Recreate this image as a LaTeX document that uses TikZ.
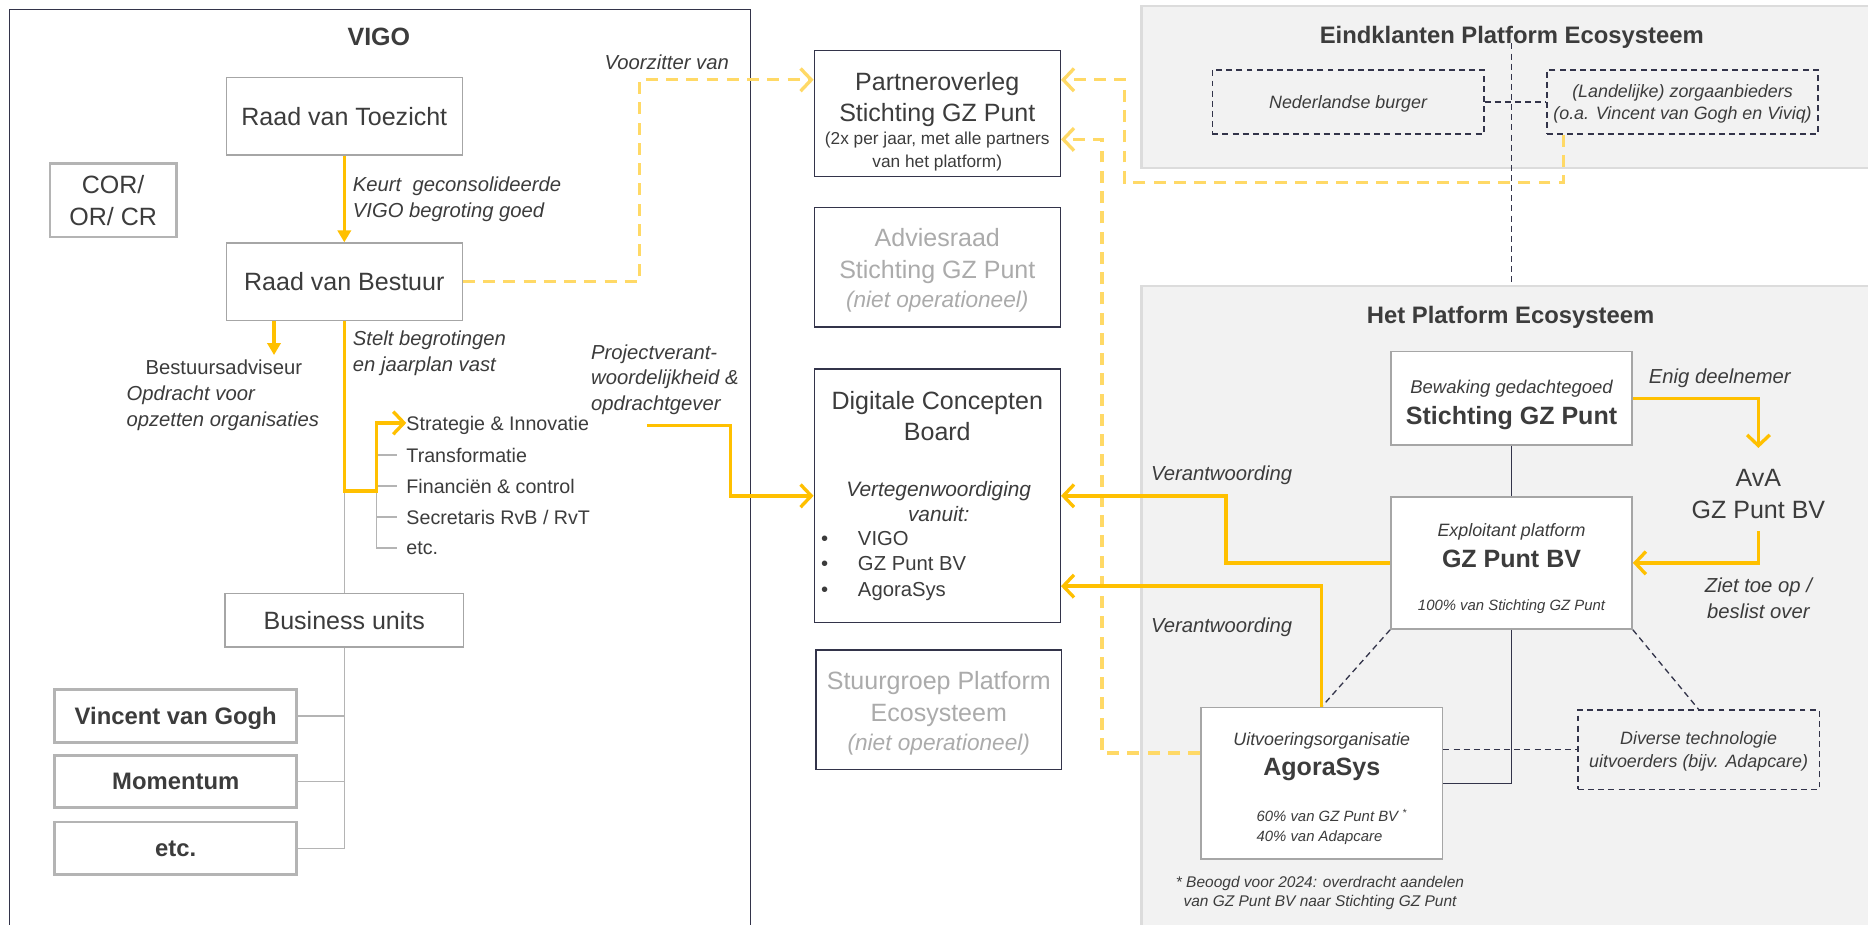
\documentclass[tikz,border=0pt]{standalone}
\usepackage{fontspec}
\setmainfont{Liberation Sans}
\usetikzlibrary{arrows.meta}
\definecolor{ink}{HTML}{3C3C3C}
\definecolor{faint}{HTML}{ABABAB}
\definecolor{gold}{HTML}{FFC000}
\definecolor{goldl}{HTML}{FFD966}
\definecolor{navy}{HTML}{33344A}
\definecolor{gline}{HTML}{A6A6A6}
\definecolor{tline}{HTML}{B4B4B4}
\definecolor{pfill}{HTML}{F2F2F2}
\definecolor{pdraw}{HTML}{DCDCDC}
\newcommand\fsT{\fontsize{21}{26.5}\selectfont}
\newcommand\fsH{\fontsize{20}{24}\selectfont}
\newcommand\fsL{\fontsize{17}{21.5}\selectfont}
\newcommand\fsM{\fontsize{16.5}{20}\selectfont}
\newcommand\fsS{\fontsize{15}{19}\selectfont}
\newcommand\fsP{\fontsize{14.5}{19}\selectfont}
\newcommand\fsF{\fontsize{13}{16}\selectfont}
\newcommand\fsX{\fontsize{12.5}{16.5}\selectfont}
\tikzset{
  lbl/.style={inner sep=0pt, text depth=0pt, text=ink},
  gbox/.style={draw=gline, line width=1.2pt, fill=white, inner sep=0pt, text depth=0pt, text=ink},
  tbox/.style={draw=tline, line width=2.2pt, fill=white, inner sep=0pt, text depth=0pt, text=ink},
  nbox/.style={draw=navy, line width=1.2pt, fill=white, inner sep=0pt},
  wbox/.style={draw=gline, line width=1.2pt, fill=white, inner sep=0pt},
  dbox/.style={draw=navy, line width=1.1pt, dash pattern=on 5pt off 3.5pt, inner sep=0pt, text depth=0pt, text=ink},
  panelbox/.style={draw=pdraw, line width=2.2pt, fill=pfill, inner sep=0pt},
  ychev/.style={-{Straight Barb[length=9pt,width=19pt]}},
  yarrow/.style={draw=gold, line width=2.8pt, ychev},
  yplain/.style={draw=gold, line width=2.8pt},
  ytri/.style={draw=gold, line width=2.8pt, -{Triangle[length=10pt,width=11pt]}},
  ydash/.style={draw=goldl, line width=2.8pt, dash pattern=on 10pt off 7pt},
  gtree/.style={draw=tline, line width=1pt},
  nline/.style={draw=navy, line width=1.1pt},
  ndash/.style={draw=navy, line width=1.1pt, dash pattern=on 5pt off 3.5pt},
}
\begin{document}
\begin{tikzpicture}[x=1pt,y=-1pt]
\useasboundingbox (0,0) rectangle (1568,776);
\fill[white] (0,0) rectangle (1568,776);
% ---------- panels / frame
\node[panelbox, minimum width=622pt, minimum height=136pt] (pan1) at (1269,73) {};
\node[panelbox, minimum width=622pt, minimum height=560pt] (pan2) at (1269,520) {};
\node[draw=navy, line width=1.2pt, minimum width=622pt, minimum height=782pt, inner sep=0pt] (vigoframe) at (319,399) {};

% ---------- VIGO
\node[lbl, font=\fontsize{21}{25}\selectfont\bfseries] (vigot) at (318,31) {VIGO};
\node[gbox, minimum width=198pt, minimum height=65pt, font=\fsT] (rvt) at (289,97.5) {Raad van Toezicht};
\node[tbox, minimum width=106pt, minimum height=62pt, font=\fontsize{21}{27}\selectfont, align=center] (cor) at (95,168) {COR/\\OR/ CR};
\node[gbox, minimum width=198pt, minimum height=65pt, font=\fsT] (rvb) at (289,236.5) {Raad van Bestuur};
\node[lbl, font=\fsL\itshape, anchor=west, align=left] (keurt) at (296,165.5) {Keurt\ \ geconsolideerde\\VIGO begroting goed};
\node[lbl, font=\fsL\itshape, anchor=east] (voorz) at (612,52) {Voorzitter van};
\node[lbl, font=\fsL, anchor=west] (bsa) at (122,308) {Bestuursadviseur};
\node[lbl, font=\fsL\itshape, anchor=west] (bsb) at (106,330) {Opdracht voor};
\node[lbl, font=\fsL\itshape, anchor=west] (bsc) at (106,352) {opzetten organisaties};
\node[lbl, font=\fsL\itshape, anchor=west, align=left] (stelt) at (296,295) {Stelt begrotingen\\en jaarplan vast};
\node[lbl, font=\fsM, anchor=west] (si) at (341,355) {Strategie \& Innovatie};
\node[lbl, font=\fsM, anchor=west] (tr) at (341,382) {Transformatie};
\node[lbl, font=\fsM, anchor=west] (fc) at (341,408) {Financiën \& control};
\node[lbl, font=\fsM, anchor=west] (sec) at (341,434) {Secretaris RvB / RvT};
\node[lbl, font=\fsM, anchor=west] (etca) at (341,460) {etc.};
\node[gbox, minimum width=200pt, minimum height=45pt, font=\fsT] (bu) at (289,520.5) {Business units};
\node[tbox, minimum width=203pt, minimum height=44pt, font=\fontsize{20}{24}\selectfont\bfseries] (vvg) at (147.5,601) {Vincent van Gogh};
\node[tbox, minimum width=203pt, minimum height=44pt, font=\fontsize{20}{24}\selectfont\bfseries] (mom) at (147.5,656) {Momentum};
\node[tbox, minimum width=203pt, minimum height=44pt, font=\fontsize{20}{24}\selectfont\bfseries] (etcb) at (147.5,712) {etc.};

% ---------- middle column
\node[nbox, minimum width=206.5pt, minimum height=105.5pt] (po) at (786.75,95.25) {};
\node[lbl, font=\fsT] (poa) at (786.75,68) {Partneroverleg};
\node[lbl, font=\fsT] (pob) at (786.75,94.6) {Stichting GZ Punt};
\node[lbl, font=\fsP] (poc) at (786.75,116) {(2x per jaar, met alle partners};
\node[lbl, font=\fsP] (pod) at (786.75,135) {van het platform)};

\node[nbox, minimum width=206.5pt, minimum height=100.5pt] (adv) at (786.75,224.25) {};
\node[lbl, font=\fsT, text=faint] (adva) at (786.75,199) {Adviesraad};
\node[lbl, font=\fsT, text=faint] (advb) at (786.75,226) {Stichting GZ Punt};
\node[lbl, font=\fontsize{19}{23}\selectfont\itshape, text=faint] (advc) at (786.75,251) {(niet operationeel)};

\node[nbox, minimum width=206.5pt, minimum height=213pt] (dcb) at (786.75,416.2) {};
\node[lbl, font=\fsT] (dcba) at (786.75,336) {Digitale Concepten};
\node[lbl, font=\fsT] (dcbb) at (786.75,362) {Board};
\node[lbl, font=\fontsize{17.5}{21}\selectfont\itshape] (dcbc) at (788,410) {Vertegenwoordiging};
\node[lbl, font=\fontsize{17.5}{21}\selectfont\itshape] (dcbd) at (788,431) {vanuit:};
\node[lbl, font=\fsL, anchor=west] (dcbe) at (689,452) {\makebox[31pt][l]{•}VIGO};
\node[lbl, font=\fsL, anchor=west] (dcbf) at (689,473) {\makebox[31pt][l]{•}GZ Punt BV};
\node[lbl, font=\fsL, anchor=west] (dcbg) at (689,495) {\makebox[31pt][l]{•}AgoraSys};

\node[nbox, minimum width=206pt, minimum height=100.4pt] (sg) at (788,595.8) {};
\node[lbl, font=\fsT, text=faint] (sga) at (788,571) {Stuurgroep Platform};
\node[lbl, font=\fsT, text=faint] (sgb) at (788,598) {Ecosysteem};
\node[lbl, font=\fontsize{19}{23}\selectfont\itshape, text=faint] (sgc) at (788,623.4) {(niet operationeel)};

\node[lbl, font=\fsL\itshape, anchor=west, align=left] (pvl) at (496,317) {Projectverant-\\woordelijkheid \&\\opdrachtgever};

% ---------- right side
\node[lbl, font=\fsH\bfseries] (t1) at (1269,29) {Eindklanten Platform Ecosysteem};
\node[lbl, font=\fsH\bfseries] (t2) at (1268,264.4) {Het Platform Ecosysteem};
\node[dbox, minimum width=228pt, minimum height=53.7pt, font=\fsS\itshape] (nb) at (1131.6,85.65) {Nederlandse burger};
\node[dbox, minimum width=227.4pt, minimum height=53.7pt, font=\fsS\itshape, align=center] (zorg) at (1412.3,85.65) {(Landelijke) zorgaanbieders\\(o.a. Vincent van Gogh en Viviq)};

\node[wbox, minimum width=202.5pt, minimum height=78.6pt] (sgz) at (1268.75,334.3) {};
\node[lbl, font=\fontsize{15.5}{19}\selectfont\itshape] (sgza) at (1268.75,324.6) {Bewaking gedachtegoed};
\node[lbl, font=\fsT\bfseries] (sgzb) at (1268.75,349) {Stichting GZ Punt};

\node[wbox, minimum width=202.5pt, minimum height=111pt] (gzbv) at (1268.75,472.5) {};
\node[lbl, font=\fsS\itshape] (gzbva) at (1268.75,445) {Exploitant platform};
\node[lbl, font=\fsT\bfseries] (gzbvb) at (1268.75,469) {GZ Punt BV};
\node[lbl, font=\fsX\itshape] (gzbvc) at (1268.75,508) {100\% van Stichting GZ Punt};

\node[wbox, minimum width=203pt, minimum height=127.2pt] (ag) at (1109.5,657.4) {};
\node[lbl, font=\fsS\itshape] (aga) at (1109.5,620.6) {Uitvoeringsorganisatie};
\node[lbl, font=\fsT\bfseries] (agb) at (1109.5,644) {AgoraSys};
\node[lbl, font=\fsX\itshape, anchor=west] (agc) at (1054.6,685) {60\% van GZ Punt BV \smash{\textsuperscript{*}}};
\node[lbl, font=\fsX\itshape, anchor=west] (agd) at (1054.6,702) {40\% van Adapcare};
\node[lbl, font=\fsF\itshape, align=center] (fn) at (1108,748) {* Beoogd voor 2024: overdracht aandelen\\van GZ Punt BV naar Stichting GZ Punt};

\node[dbox, minimum width=202.4pt, minimum height=66.6pt, font=\fsS\itshape, align=center] (dt) at (1425.8,629.3) {\fontsize{15}{18}\selectfont Diverse technologie\\uitvoerders (bijv. Adapcare)};

\node[lbl, font=\fsT, align=center] (ava) at (1476,414.5) {AvA\\GZ Punt BV};
\node[lbl, font=\fsL\itshape] (enig) at (1443.6,316) {Enig deelnemer};
\node[lbl, font=\fsL\itshape, align=center] (ziet) at (1476,502) {Ziet toe op /\\beslist over};
\node[lbl, font=\fsL\itshape, anchor=west] (vera) at (966,397) {Verantwoording};
\node[lbl, font=\fsL\itshape, anchor=west] (verb) at (966,524.6) {Verantwoording};

% ---------- helper coordinates
\coordinate (poEa) at ([yshift=28.25pt]po.east);
\coordinate (poEb) at ([yshift=-21.75pt]po.east);
\coordinate (poWa) at ([yshift=28.25pt]po.west);
\coordinate (lbend) at (537,67);
\coordinate (zs) at ([xshift=14.4pt]zorg.south west);
\coordinate (loopx) at (944,153);
\coordinate (agW) at ([yshift=25.4pt]ag.west);
\coordinate (rx) at (925,0);
\coordinate (bsin) at (230,298);
\coordinate (tx) at (316,0);
\coordinate (ybend) at (316,412);
\coordinate (pv) at (543,357);
\coordinate (pvx) at (613,0);
\coordinate (avaT) at (1476,376);
\coordinate (avaB) at (1476,446);
\coordinate (vx) at (1029,0);
\coordinate (dcbE2) at ([yshift=-75.8pt]dcb.east);

% ---------- grey tree
\draw[gtree] (rvb.south) -- (bu.north);
\draw[gtree] (tx |- si.west) -- (tx |- etca.west) -- ([xshift=-8pt]etca.west);
\draw[gtree] (tx |- tr.west) -- ([xshift=-8pt]tr.west);
\draw[gtree] (tx |- fc.west) -- ([xshift=-8pt]fc.west);
\draw[gtree] (tx |- sec.west) -- ([xshift=-8pt]sec.west);
\draw[gtree] (bu.south) |- (etcb.east);
\draw[gtree] (vvg.east) -- (vvg.east -| bu.south);
\draw[gtree] (mom.east) -- (mom.east -| bu.south);

% ---------- navy lines
\draw[nline] (sgz.south) -- (gzbv.north);
\draw[nline] (gzbv.south) |- (ag.east);
\draw[ndash] (gzbv.south west) -- (ag.north);
\draw[ndash] (gzbv.south east) -- (dt.north);
\draw[ndash] (dt.west -| ag.east) -- (dt.west);
\draw[ndash] (nb.east) -- (zorg.west);

% ---------- yellow dashed
\draw[ydash, ychev] (rvb.east) -| (lbend) -- (poWa);
\draw[ydash, ychev] (zs) |- (loopx) |- (poEa);
\draw[ydash, ychev] (agW) -| (rx |- poEb) -- (poEb);
\draw[ndash] (t1.south) -- (pan2.north);

% ---------- yellow solid
\draw[ytri] (rvt.south) -- (rvb.north);
\draw[ytri] ([xshift=-59pt]rvb.south) -- (bsin);
\draw[yarrow] (rvb.south) |- (ybend) |- (si.west);
\draw[yarrow] (pv) -| (pvx |- dcb.west) -- (dcb.west);
\draw[yarrow] (sgz.east) -| (avaT);
\draw[yarrow] (avaB) |- (gzbv.east);
\draw[yarrow] (gzbv.west) -| (vx |- dcb.east) -- (dcb.east);
\draw[yarrow] (ag.north) |- (dcbE2);
\end{tikzpicture}
\end{document}
